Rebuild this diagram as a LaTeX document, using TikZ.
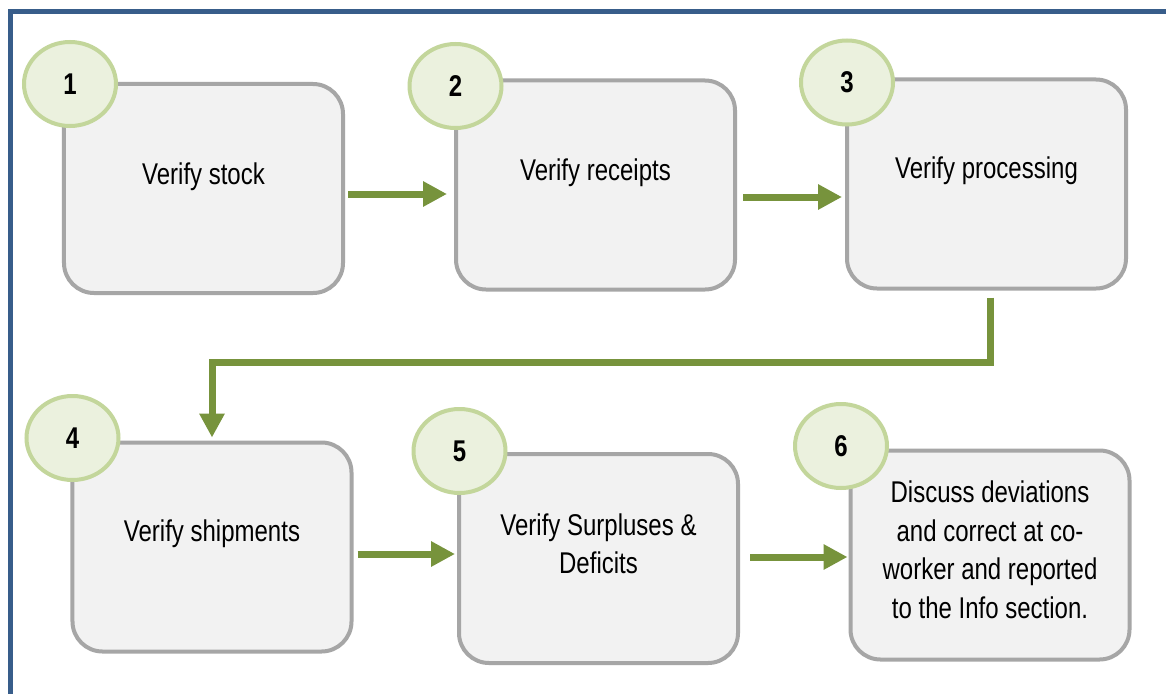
\documentclass[tikz,border=0pt]{standalone}
\usepackage{fontspec}
\setmainfont{Liberation Sans}[FakeStretch=0.8]
\usetikzlibrary{arrows.meta}
\usetikzlibrary{shapes.geometric}
\definecolor{frameblue}{HTML}{385D8A}
\definecolor{boxgray}{HTML}{A6A6A6}
\definecolor{boxfill}{HTML}{F2F2F2}
\definecolor{numgreen}{HTML}{C3D69B}
\definecolor{numfill}{HTML}{EBF1DE}
\definecolor{flowgreen}{HTML}{77933C}

\begin{document}
\begin{tikzpicture}[x=0.4pt,y=-0.4pt,
    stepbox/.style={draw=boxgray,fill=boxfill,line width=1.6pt,rounded corners=12pt,
        minimum width=111.6pt,minimum height=83.6pt},
    steptext/.style={align=center,font=\fontsize{12}{15.4}\selectfont},
    stepnum/.style={ellipse,draw=numgreen,fill=numfill,line width=1.6pt,inner sep=0pt,
        minimum width=36.8pt,minimum height=33.6pt,font=\fontsize{12}{14}\selectfont\bfseries},
    flow/.style={draw=flowgreen,line width=2.8pt,-{Triangle[length=9.6pt,width=9.6pt]}}]
                \useasboundingbox (0,0) rectangle (1166,693);
                \fill[white] (0,0) rectangle (1166,693);
                \draw[frameblue,line width=2pt] (10.5,720) |- (1200,11.5);

                \node[stepbox] (b1) at (203.5,188.5) {};
                \node[stepbox] (b2) at (595.5,185) {};
                \node[stepbox] (b3) at (986.5,184) {};
                \node[stepbox] (b4) at (212,547) {};
                \node[stepbox] (b5) at (598.5,558.5) {};
                \node[stepbox] (b6) at (990,555) {};

                \node[steptext] (t1) at ([shift={(0,-12)}]b1.center) {Verify stock};
                \node[steptext] (t2) at ([shift={(0,-12)}]b2.center) {Verify receipts};
                \node[steptext] (t3) at ([shift={(0,-13)}]b3.center) {Verify processing};
                \node[steptext] (t4) at ([shift={(0,-13)}]b4.center) {Verify shipments};
                \node[steptext] (t5) at ([shift={(0,-14.5)}]b5.center) {Verify Surpluses \&\\Deficits};
                \node[steptext] (t6) at ([shift={(0,-5)}]b6.center)
                    {Discuss deviations\\and correct at co-\\worker and reported\\to the Info section.};

                \node[stepnum] (n1) at (70,84) {1};
                \node[stepnum] (n2) at (455.5,86) {2};
                \node[stepnum] (n3) at (847,82.5) {3};
                \node[stepnum] (n4) at (72.5,438) {4};
                \node[stepnum] (n5) at (459.5,451) {5};
                \node[stepnum] (n6) at (841,446) {6};

                \draw[flow] ([shift={(3,5.5)}]b1.east) -- ([shift={(-7,9)}]b2.west);
                \draw[flow] ([shift={(6,12)}]b2.east) -- ([shift={(-3,13)}]b3.west);
                \draw[flow] ([shift={(3.5,7)}]b3.south) |- ([shift={(0,-78)}]b4.north) -- ([shift={(0,-3)}]b4.north);
                \draw[flow] ([shift={(4,7)}]b4.east) -- ([shift={(-2,-4.5)}]b5.west);
                \draw[flow] ([shift={(10,-1.5)}]b5.east) -- ([shift={(-1,2)}]b6.west);
\end{tikzpicture}
\end{document}
